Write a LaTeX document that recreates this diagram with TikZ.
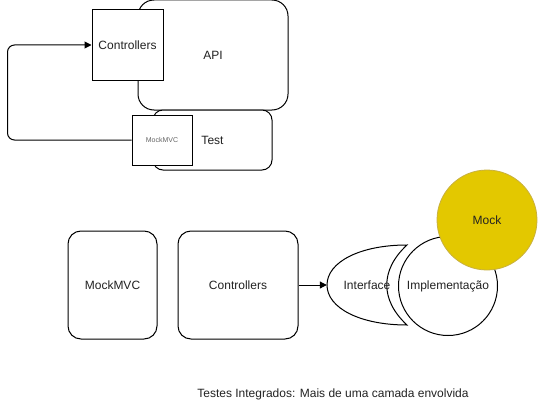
\documentclass[tikz,border=0pt]{standalone}
\usepackage{fontspec}
\setmainfont{Liberation Sans}
\usetikzlibrary{arrows.meta}
\definecolor{txt}{HTML}{222222}
\definecolor{mockfill}{HTML}{E3C800}
\definecolor{mockline}{HTML}{C8B040}
\begin{document}
\begin{tikzpicture}[x=1pt,y=-1pt,
  every node/.style={font=\fontsize{12}{14}\selectfont, text=txt},
  box/.style={draw=black, line width=1pt, fill=white, inner sep=0pt},
  rbox/.style={box, rounded corners=#1},
  link/.style={draw=black, line width=1pt, -{Triangle[length=7pt,width=7pt]}}]
\useasboundingbox (0,0) rectangle (538,412);
% top group
\node[rbox=16, minimum width=150, minimum height=110] (api) at (213,55) {API};
\node[rbox=10, minimum width=119, minimum height=60] (test) at (212.5,140) {Test};
\node[box, minimum width=71, minimum height=70] (ctrltop) at (127.5,45) {Controllers};
\node[box, minimum width=60, minimum height=50, font=\fontsize{7}{8}\selectfont, text=black!60] (mvctop) at (162,140) {MockMVC};
\draw[link, rounded corners=7] (mvctop.west) -- ++(-124,0) |- (ctrltop.west);
% bottom group
\node[rbox=13, minimum width=89, minimum height=108] (mvc) at (112.5,285) {MockMVC};
\node[rbox=13, minimum width=120, minimum height=108] (ctrl) at (238,285) {Controllers};
\draw[line width=1pt, fill=white] (407,245) .. controls (360,245) and (327,262) .. (327,285)
  .. controls (327,308) and (360,325) .. (407,325)
  .. controls (380,300) and (380,270) .. (407,245) -- cycle;
\node[inner sep=0pt, minimum width=80, minimum height=80] (iface) at (367,285) {Interface};
\node[circle, draw=black, line width=1pt, fill=white, minimum size=99, inner sep=0pt] (impl) at (448,286) {Implementação};
\node[circle, draw=mockline, line width=0.8pt, fill=mockfill, minimum size=100, inner sep=0pt] (mock) at (487,220) {Mock};
\draw[link] (ctrl.east) -- (iface.west);
\node (caption) at (333,394) {Testes Integrados: Mais de uma camada envolvida};
\end{tikzpicture}
\end{document}
